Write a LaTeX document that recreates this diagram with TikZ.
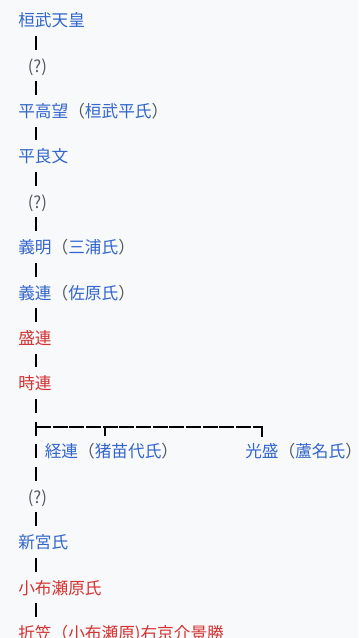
\documentclass[tikz,border=0pt]{standalone}
\usepackage{fontspec}
\setmainfont{Noto Sans CJK JP}
\usepackage{xcolor}
\usetikzlibrary{calc, positioning}
\definecolor{linkblue}{HTML}{3366CC}
\definecolor{redlink}{HTML}{D33333}
\definecolor{parengray}{HTML}{54595D}
\definecolor{pagebg}{HTML}{F8F9FA}
\newcommand{\lk}[1]{\textcolor{linkblue}{#1}}
\newcommand{\rl}[1]{\textcolor{redlink}{#1}}
\newcommand{\pn}[1]{\textcolor{parengray}{#1}}
\tikzset{  
    x=0.75pt, y=-0.75pt,% one unit is one pixel of the screenshot, y runs downwards
    person/.style = {anchor=west, inner sep=0pt, text height=1em, text depth=0em, font=\fontsize{12.5pt}{15pt}\selectfont}, % every name in the family line
    descent/.style = {line width=1.5pt, shorten <=11.8pt, shorten >=11.8pt}, % the short bars between two generations
    hline/.style = {line width=1.5pt, dash pattern=on 11.3pt off 1.2pt},
    tick/.style = {line width=1.5pt}
}
\begin{document}
\begin{tikzpicture}
    \useasboundingbox (0,0) rectangle (358,638);
    \clip (0,0) rectangle (358,638);
    \fill[pagebg] (0,0) rectangle (358,638);
    \coordinate (stem) at (36,0);
    % main line
    \node [person] (kanmu) at (18,20) {\lk{桓武天皇}};
    \node [person] (q1) at (27.5,65.4) {\pn{(?)}};
    \node [person] (takamochi) at (18,110.8) {\lk{平高望}\pn{（}\lk{桓武平氏}\pn{）}};
    \node [person] (yoshifumi) at (18,156.2) {\lk{平良文}};
    \node [person] (q2) at (27.5,201.6) {\pn{(?)}};
    \node [person] (yoshiaki) at (18,247) {\lk{義明}\pn{（}\lk{三浦氏}\pn{）}};
    \node [person] (yoshitsura) at (18,292.4) {\lk{義連}\pn{（}\lk{佐原氏}\pn{）}};
    \node [person] (moritsura) at (18,337.8) {\rl{盛連}};
    \node [person] (tokitsura) at (18,383.2) {\rl{時連}};
    % the two sons of Tokitsura
    \node [person] (tsunetsura) at (44.5,451.3) {\lk{経連}\pn{（}\lk{猪苗代氏}\pn{）}};
    \node [person] (mitsumori) at (245,451.3) {\lk{光盛}\pn{（}\lk{蘆名氏}\pn{\makebox[0.55em][l]{）}}};
    \node [person] (q3) at (27.5,496.7) {\pn{(?)}};
    \node [person] (shingu) at (18,542.1) {\lk{新宮氏}};
    \node [person] (kofusehara) at (18,587.5) {\rl{小布瀬原氏}};
    \node [person] (orikasa) at (18,632.9) {\rl{折笠（小布瀬原)右京介景勝}};

    \foreach \a/\b in {kanmu/q1, q1/takamochi, takamochi/yoshifumi, yoshifumi/q2, q2/yoshiaki,
                       yoshiaki/yoshitsura, yoshitsura/moritsura, moritsura/tokitsura,
                       q3/shingu, shingu/kofusehara, kofusehara/orikasa}
        \draw [descent] (\a.west -| stem) -- (\b.west -| stem);

    % branch row
    \draw [descent, dash pattern=on 10.5pt off 6.5pt] (tokitsura.west -| stem) -- (q3.west -| stem);
    \coordinate (fork) at (36,427);
    \coordinate (tsunetick) at (105,436);
    \coordinate (mitsutick) at (262,437);
    \draw [hline] (fork) -- (fork -| mitsutick);
    \draw [tick] (tsunetick |- fork) -- (tsunetick);
    \draw [tick] ([yshift=0.56pt]fork -| mitsutick) -- (mitsutick);
\end{tikzpicture}
\end{document}
